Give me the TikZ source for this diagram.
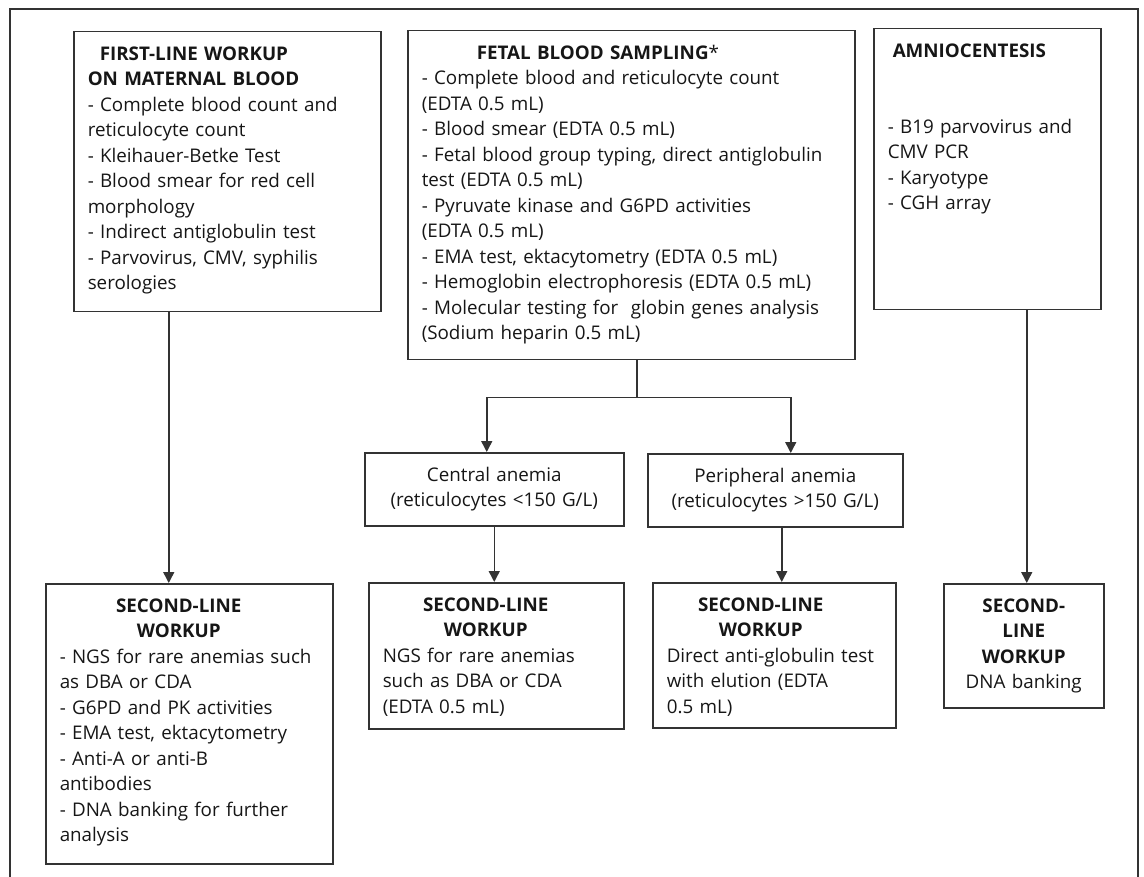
\documentclass[tikz,border=0pt]{standalone}
\usepackage{fontspec}
\setmainfont{Open Sans}
\usetikzlibrary{arrows.meta}
\definecolor{linec}{HTML}{333333}
\definecolor{txtc}{HTML}{161616}
\newcommand{\txtfont}{\fontsize{18.8pt}{25.5pt}\selectfont}
\newcommand{\ttl}[2]{\makebox[#1][c]{\bfseries #2}}
\begin{document}
\begin{tikzpicture}[x=1pt,y=-1pt,
		box/.style={draw=linec, line width=1.5pt, anchor=north west, inner xsep=14pt, inner ysep=0pt, text height=28.5pt, align=left, font=\txtfont, text=txtc},
		link/.style={draw=linec, line width=1.5pt},
		arr/.style={link, -{Triangle[length=11pt,width=11pt]}}]
	\useasboundingbox (0,0) rectangle (1144,877);
	\draw[link] (10,877) -- (10,9) -- (1138,9) -- (1138,877);
	\node[box, text width=279pt, text depth=251.5pt] (maternal) at (73,31) {\hspace*{12pt}\textbf{FIRST-LINE WORKUP}\\\textbf{ON MATERNAL BLOOD}\\- Complete blood count and\\reticulocyte count\\- Kleihauer-Betke Test\\- Blood smear for red cell\\morphology\\- Indirect antiglobulin test\\- Parvovirus, CMV, syphilis\\serologies};
	\node[box, text width=419pt, text depth=300.5pt] (fetal) at (407,30) {\hspace*{55pt}\textbf{FETAL BLOOD SAMPLING}*\\- Complete blood and reticulocyte count\\(EDTA 0.5 mL)\\- Blood smear (EDTA 0.5 mL)\\- Fetal blood group typing, direct antiglobulin\\test (EDTA 0.5 mL)\\- Pyruvate kinase and G6PD activities\\(EDTA 0.5 mL)\\- EMA test, ektacytometry (EDTA 0.5 mL)\\- Hemoglobin electrophoresis (EDTA 0.5 mL)\\- Molecular testing for \ globin genes analysis\\(Sodium heparin 0.5 mL)};
	\node[box, text width=199pt, text depth=252.5pt] (amnio) at (873,28) {\hspace*{5pt}\textbf{AMNIOCENTESIS}\\[50.5pt]- B19 parvovirus and\\CMV PCR\\- Karyotype\\- CGH array};
	\node[box, align=center, text width=231pt, text depth=44.5pt] (central) at (364,452) {Central anemia\\(reticulocytes <150 G/L)};
	\node[box, align=center, text width=227pt, text depth=44.5pt] (peripheral) at (647,453) {Peripheral anemia\\(reticulocytes >150 G/L)};
	\node[box, text width=259pt, text depth=251.5pt] (second1) at (45,583) {\ttl{238pt}{SECOND-LINE}\\\ttl{238pt}{WORKUP}\\- NGS for rare anemias such\\as DBA or CDA\\- G6PD and PK activities\\- EMA test, ektacytometry\\- Anti-A or anti-B\\antibodies\\- DNA banking for further\\analysis};
	\node[box, text width=227pt, text depth=117.5pt] (second2) at (368,582) {\ttl{206pt}{SECOND-LINE}\\\ttl{206pt}{WORKUP}\\NGS for rare anemias\\such as DBA or CDA\\(EDTA 0.5 mL)};
	\node[box, text width=215pt, text depth=116.5pt] (second3) at (652,582) {\ttl{188pt}{SECOND-LINE}\\\ttl{188pt}{WORKUP}\\Direct anti-globulin test\\with elution (EDTA\\0.5 mL)};
	\node[box, align=center, text width=132pt, text depth=95.5pt] (second4) at (943,583) {\textbf{SECOND-}\\\textbf{LINE}\\\textbf{WORKUP}\\DNA banking};
	\draw[arr] ([xshift=-58.5pt]maternal.south) -- ([xshift=-20.5pt]second1.north);
	\draw[link] ([xshift=5.5pt]fetal.south) -- ++(0,37) coordinate (split);
	\draw[arr] (split) -| ([xshift=-7.5pt]central.north);
	\draw[arr] (split) -| ([xshift=15.5pt]peripheral.north);
	\draw[arr] (central.south) -- (central.south |- second2.north);
	\draw[arr] ([xshift=6.5pt]peripheral.south) -- ([xshift=6.5pt]peripheral.south |- second3.north);
	\draw[arr] ([xshift=39.5pt]amnio.south) -- ([xshift=3pt]second4.north);
\end{tikzpicture}
\end{document}
